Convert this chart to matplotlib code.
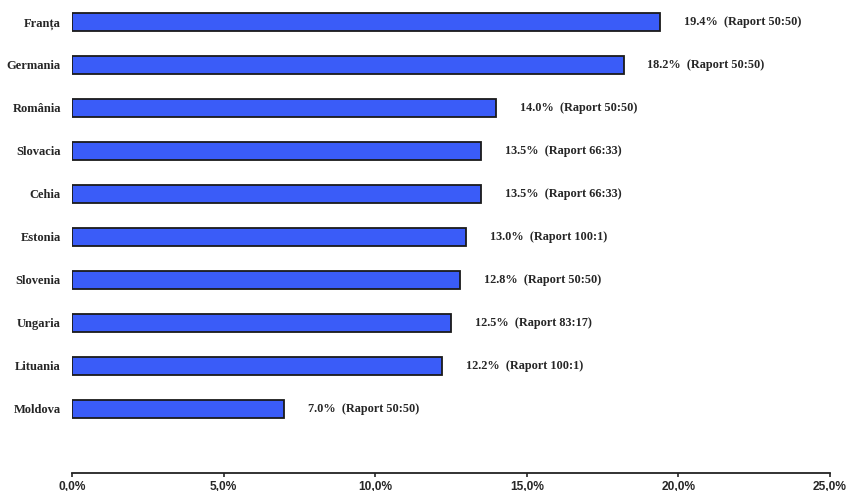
import matplotlib.pyplot as plt
from matplotlib.ticker import FuncFormatter

tari = ['Franța', 'Germania', 'România', 'Slovacia', 'Cehia',
        'Estonia', 'Slovenia', 'Ungaria', 'Lituania', 'Moldova']
valori = [19.4, 18.2, 14.0, 13.5, 13.5, 13.0, 12.8, 12.5, 12.2, 7.0]
rapoarte = ['50:50', '50:50', '50:50', '66:33', '66:33',
            '100:1', '50:50', '83:17', '100:1', '50:50']
ticks = [0, 5, 10, 15, 20, 25]

fig = plt.figure(figsize=(8.49, 4.91), dpi=100)
ax = fig.add_axes([72 / 849, 18 / 491, (830 - 72) / 849, 473 / 491])

pozitii = list(range(len(tari)))[::-1]
ax.barh(pozitii, valori, height=0.42, color='#3a5cf8',
        edgecolor='#1a1a1a', linewidth=1.3)

for y, v, r in zip(pozitii, valori, rapoarte):
    ax.annotate(f'{v:.1f}%  (Raport {r})', (v, y), xytext=(17, 0),
                textcoords='offset points', va='center', ha='left',
                fontsize=8.8, fontweight='bold', family='Liberation Serif',
                color='#262626')

ax.set_xlim(0, 25)
ax.set_ylim(-1.49, 9.51)
ax.set_xticks(ticks)
ax.xaxis.set_major_formatter(FuncFormatter(lambda x, p: f'{x:.1f}%'.replace('.', ',')))
ax.set_yticks(pozitii)
ax.set_yticklabels(tari)

for s in ['top', 'right', 'left']:
    ax.spines[s].set_visible(False)
ax.spines['bottom'].set_linewidth(1.3)
ax.spines['bottom'].set_color('#222222')

ax.tick_params(axis='y', length=0, pad=8, colors='#262626')
ax.tick_params(axis='x', length=3, width=1.2, pad=2.5, colors='#262626')
for t in ax.get_yticklabels():
    t.set_family('Liberation Serif')
    t.set_fontweight('bold')
    t.set_fontsize(9)
for t in ax.get_xticklabels():
    t.set_family('Liberation Sans')
    t.set_fontweight('bold')
    t.set_fontsize(8.6)

fig.savefig('out.png', dpi=100)
